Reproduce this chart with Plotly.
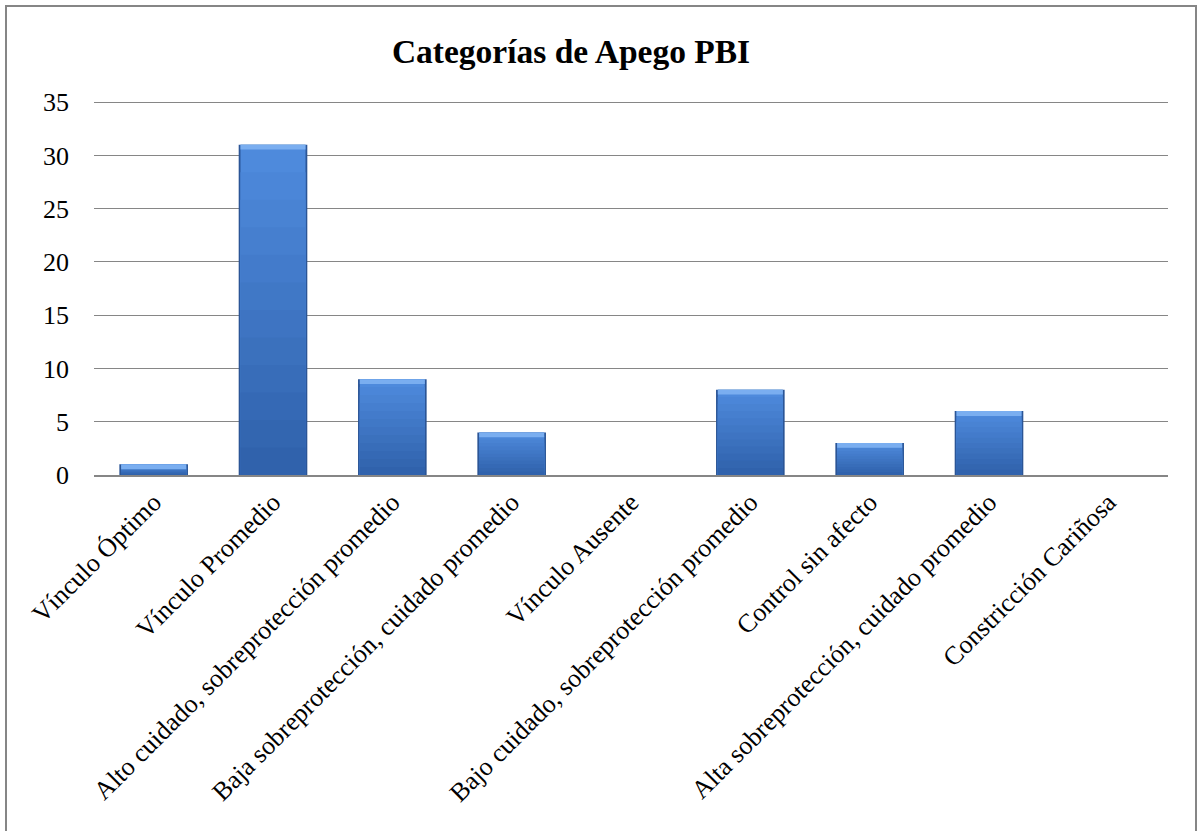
import plotly.graph_objects as go

# Categorías de apego (PBI) y frecuencias
categorias = [
    "Vínculo Óptimo",
    "Vínculo Promedio",
    "Alto cuidado, sobreprotección promedio",
    "Baja sobreprotección, cuidado promedio",
    "Vínculo Ausente",
    "Bajo cuidado, sobreprotección promedio",
    "Control sin afecto",
    "Alta sobreprotección, cuidado promedio",
    "Constricción Cariñosa",
]
frecuencias = [1, 31, 9, 4, 0, 8, 3, 6, 0]
y_ticks = [0, 5, 10, 15, 20, 25, 30, 35]

FUENTE = "Liberation Serif, Times New Roman, serif"
GRIS = "#868686"

fig = go.Figure()

# borde oscuro de cada barra
fig.add_trace(go.Bar(
    x=categorias, y=frecuencias, width=0.575,
    marker=dict(color="#2b5596", line=dict(width=0)),
))

# degradado vertical: capas superpuestas, de la más clara (arriba) a la más oscura (abajo)
top = (78, 138, 220)
bottom = (48, 98, 172)
n = 12
for i in range(n):
    k = 1 - i / n
    t = i / (n - 1)
    c = tuple(round(top[j] + (bottom[j] - top[j]) * t) for j in range(3))
    fig.add_trace(go.Bar(
        x=categorias,
        y=[v * k for v in frecuencias],
        width=0.545,
        marker=dict(color="rgb(%d,%d,%d)" % c, line=dict(width=0)),
        hoverinfo="skip",
    ))

# franja clara superior (bisel)
cap = 0.45
fig.add_trace(go.Bar(
    x=categorias,
    y=[cap if v > 0 else 0 for v in frecuencias],
    base=[v - cap if v > 0 else 0 for v in frecuencias],
    width=0.545,
    marker=dict(color="#7aaef0", line=dict(width=0)),
    hoverinfo="skip",
))

fig.update_layout(
    width=1198, height=831,
    barmode="overlay",
    paper_bgcolor="white", plot_bgcolor="white",
    margin=dict(l=94, r=30, t=99, b=356),
    font=dict(family=FUENTE, size=26, color="black"),
    title=dict(text="<b>Categorías de Apego PBI</b>", x=571 / 1198, xanchor="center",
               y=1 - 51 / 831, yanchor="middle",
               font=dict(family=FUENTE, size=33.5, color="black")),
    showlegend=False,
)
fig.update_xaxes(
    tickangle=-45, showline=True, linecolor=GRIS, linewidth=1.5,
    ticks="", showgrid=False, tickfont=dict(family=FUENTE, size=26),
)
fig.update_yaxes(
    range=[0, 35.3], tickvals=y_ticks, showgrid=True, gridcolor=GRIS, gridwidth=1,
    zeroline=False, showline=False, ticks="", ticklabelstandoff=24,
    tickfont=dict(family=FUENTE, size=26),
)

# marco del área del gráfico (coordenadas paper: área de trazado 1074 x 376 px)
fig.add_shape(type="rect", xref="paper", yref="paper",
              x0=(6 - 94) / 1074, x1=(1196 - 94) / 1074,
              y0=(475 - 845) / 376, y1=(475 - 6) / 376,
              line=dict(color=GRIS, width=2), fillcolor="rgba(0,0,0,0)", layer="below")

fig.write_html("out.html", config={"displayModeBar": False},
               post_script="document.body.style.margin='0';")
